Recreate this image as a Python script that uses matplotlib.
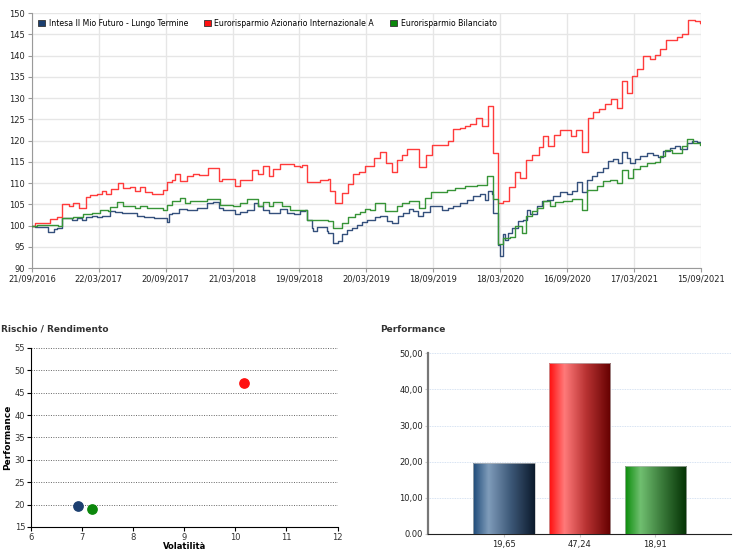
import numpy as np
import pandas as pd
import matplotlib
matplotlib.use("Agg")
import matplotlib.pyplot as plt
from matplotlib.patches import Patch


OUTPUT_FIG = "out.png"

START_DATE = "2016-09-21"
END_DATE = "2021-09-15"

FUND_NAMES = [
    "Intesa Il Mio Futuro - Lungo Termine",
    "Eurorisparmio Azionario Internazionale A",
    "Eurorisparmio Bilanciato",
]

INTESA_DATES = [
    "2016-09-21", "2016-09-30", "2016-11-05", "2016-11-19", "2016-11-28", "2016-12-12",
    "2017-01-08", "2017-01-21", "2017-02-04", "2017-02-16", "2017-03-03", "2017-03-17",
    "2017-03-30", "2017-04-22", "2017-05-06", "2017-05-24", "2017-07-04", "2017-07-22",
    "2017-08-18", "2017-09-23", "2017-09-28", "2017-10-07", "2017-10-25", "2017-11-17",
    "2017-12-14", "2018-01-10", "2018-01-28", "2018-02-11", "2018-02-24", "2018-03-28",
    "2018-04-11", "2018-04-29", "2018-05-17", "2018-05-30", "2018-06-13", "2018-06-27",
    "2018-07-28", "2018-08-16", "2018-09-03", "2018-09-21", "2018-10-05", "2018-10-09",
    "2018-10-23", "2018-10-27", "2018-11-05", "2018-12-03", "2018-12-07", "2018-12-20",
    "2019-01-03", "2019-01-12", "2019-01-26", "2019-02-09", "2019-02-22", "2019-03-08",
    "2019-03-21", "2019-04-13", "2019-04-27", "2019-05-15", "2019-05-28", "2019-06-15",
    "2019-06-29", "2019-07-13", "2019-07-26", "2019-08-09", "2019-08-22", "2019-09-10",
    "2019-09-23", "2019-10-11", "2019-10-29", "2019-11-12", "2019-11-30", "2019-12-18",
    "2020-01-05", "2020-01-24", "2020-02-06", "2020-02-15", "2020-02-24", "2020-02-27",
    "2020-03-12", "2020-03-18", "2020-03-25", "2020-04-01", "2020-04-10", "2020-04-19",
    "2020-05-07", "2020-05-20", "2020-05-30", "2020-06-08", "2020-06-26", "2020-07-09",
    "2020-07-23", "2020-08-10", "2020-08-28", "2020-09-15", "2020-09-29", "2020-10-13",
    "2020-10-26", "2020-11-09", "2020-11-22", "2020-12-06", "2020-12-24", "2021-01-07",
    "2021-01-20", "2021-02-03", "2021-02-12", "2021-02-26", "2021-03-07", "2021-03-20",
    "2021-04-03", "2021-04-21", "2021-05-09", "2021-05-23", "2021-06-05", "2021-06-23",
    "2021-07-07", "2021-07-21", "2021-08-08", "2021-08-22", "2021-09-04", "2021-09-15",
]
INTESA_VALUES = [
    100.0, 99.6, 98.4, 99.2, 99.4, 101.8,
    101.4, 101.8, 101.2, 102.0, 102.3, 102.0,
    102.3, 103.3, 103.2, 103.0, 102.3, 102.0,
    101.7, 100.8, 102.6, 103.0, 104.0, 103.7,
    104.1, 105.2, 105.5, 104.1, 103.7, 102.6,
    103.1, 103.7, 105.2, 104.5, 103.7, 103.0,
    104.0, 103.0, 102.6, 103.3, 103.6, 101.4,
    99.4, 98.6, 99.7, 98.8, 98.2, 96.0,
    96.3, 97.9, 99.0, 99.4, 100.2, 100.8,
    101.4, 102.0, 102.3, 101.0, 100.6, 102.2,
    103.0, 103.9, 103.3, 102.2, 103.1, 104.5,
    104.7, 103.7, 104.1, 104.7, 105.3, 105.9,
    106.9, 107.5, 106.1, 108.1, 107.5, 103.0,
    95.5, 92.9, 97.9, 96.7, 98.2, 99.4,
    101.0, 101.4, 103.7, 102.6, 104.7, 105.7,
    106.1, 106.9, 107.8, 107.3, 108.1, 110.2,
    107.8, 110.8, 111.7, 112.5, 113.6, 115.1,
    115.7, 114.7, 117.2, 115.9, 114.6, 115.7,
    116.3, 117.1, 116.5, 116.2, 117.5, 118.3,
    118.8, 118.0, 119.3, 119.8, 119.6, 119.6,
]

AZIONARIO_DATES = [
    "2016-09-21", "2016-09-30", "2016-11-10", "2016-11-28", "2016-12-12", "2016-12-30",
    "2017-01-12", "2017-01-26", "2017-02-16", "2017-02-27", "2017-03-17", "2017-03-30",
    "2017-04-11", "2017-04-25", "2017-05-12", "2017-05-28", "2017-06-14", "2017-06-29",
    "2017-07-13", "2017-07-26", "2017-08-13", "2017-09-12", "2017-09-23", "2017-10-07",
    "2017-10-16", "2017-10-29", "2017-11-17", "2017-12-03", "2017-12-20", "2018-01-12",
    "2018-02-13", "2018-02-20", "2018-03-28", "2018-04-11", "2018-05-13", "2018-05-30",
    "2018-06-13", "2018-06-27", "2018-07-10", "2018-07-28", "2018-09-03", "2018-09-21",
    "2018-09-26", "2018-10-09", "2018-11-14", "2018-12-07", "2018-12-12", "2018-12-25",
    "2019-01-12", "2019-01-30", "2019-02-13", "2019-02-27", "2019-03-17", "2019-04-11",
    "2019-04-27", "2019-05-12", "2019-05-28", "2019-06-11", "2019-06-25", "2019-07-08",
    "2019-08-11", "2019-08-29", "2019-09-14", "2019-10-28", "2019-11-12", "2019-11-30",
    "2019-12-14", "2019-12-27", "2020-01-13", "2020-01-28", "2020-02-14", "2020-02-27",
    "2020-03-12", "2020-03-27", "2020-04-12", "2020-04-28", "2020-05-11", "2020-05-27",
    "2020-06-12", "2020-07-01", "2020-07-14", "2020-07-27", "2020-08-13", "2020-08-28",
    "2020-09-27", "2020-10-10", "2020-10-26", "2020-11-12", "2020-11-27", "2020-12-12",
    "2020-12-29", "2021-01-14", "2021-01-30", "2021-02-12", "2021-02-26", "2021-03-11",
    "2021-03-25", "2021-04-12", "2021-04-30", "2021-05-14", "2021-05-27", "2021-06-12",
    "2021-07-12", "2021-07-27", "2021-08-12", "2021-08-30", "2021-09-13", "2021-09-15",
]
AZIONARIO_VALUES = [
    100.0, 100.6, 101.5, 102.0, 105.0, 104.6,
    105.4, 104.2, 106.8, 107.1, 107.5, 108.1,
    107.3, 108.7, 109.9, 108.9, 109.1, 108.1,
    109.1, 107.8, 107.4, 108.4, 110.2, 110.8,
    112.2, 110.4, 111.6, 112.2, 111.8, 113.6,
    110.4, 111.0, 109.4, 110.6, 113.0, 112.2,
    114.1, 111.6, 113.4, 114.4, 114.1, 113.8,
    114.3, 110.2, 110.8, 111.0, 108.1, 105.3,
    107.7, 109.7, 112.1, 112.6, 114.1, 115.9,
    117.3, 114.7, 112.7, 115.5, 116.7, 118.1,
    113.7, 116.5, 118.9, 119.8, 122.6, 123.0,
    123.4, 123.9, 125.2, 123.4, 128.1, 117.1,
    105.3, 105.8, 109.0, 112.7, 111.2, 115.5,
    116.7, 118.5, 121.0, 118.7, 121.2, 122.4,
    121.0, 122.4, 117.2, 125.4, 126.7, 127.5,
    128.5, 129.8, 127.7, 134.0, 131.1, 135.2,
    136.8, 139.9, 139.1, 140.1, 141.5, 143.7,
    144.3, 145.0, 148.4, 148.2, 147.6, 147.4,
]

BILANCIATO_DATES = [
    "2016-09-21", "2016-10-05", "2016-12-02", "2016-12-12", "2017-01-12", "2017-02-08",
    "2017-03-03", "2017-03-26", "2017-04-17", "2017-04-22", "2017-05-10", "2017-05-28",
    "2017-06-29", "2017-07-13", "2017-07-31", "2017-09-14", "2017-09-23", "2017-10-07",
    "2017-10-29", "2017-11-12", "2017-11-26", "2018-01-10", "2018-02-15", "2018-03-23",
    "2018-04-11", "2018-04-29", "2018-05-30", "2018-06-13", "2018-06-27", "2018-07-10",
    "2018-08-02", "2018-08-25", "2018-09-21", "2018-10-09", "2018-12-07", "2018-12-20",
    "2019-01-12", "2019-01-30", "2019-02-18", "2019-03-03", "2019-03-17", "2019-03-30",
    "2019-04-13", "2019-05-10", "2019-06-11", "2019-06-25", "2019-07-13", "2019-08-11",
    "2019-08-27", "2019-09-12", "2019-10-25", "2019-11-17", "2019-12-14", "2020-01-15",
    "2020-02-11", "2020-02-27", "2020-03-12", "2020-03-27", "2020-04-14", "2020-04-28",
    "2020-05-16", "2020-05-28", "2020-06-12", "2020-06-26", "2020-07-14", "2020-08-01",
    "2020-08-15", "2020-09-06", "2020-09-29", "2020-10-26", "2020-11-09", "2020-12-06",
    "2020-12-24", "2021-01-11", "2021-01-30", "2021-02-12", "2021-03-02", "2021-03-16",
    "2021-04-03", "2021-04-21", "2021-05-14", "2021-05-27", "2021-06-10", "2021-06-28",
    "2021-07-25", "2021-08-08", "2021-08-26", "2021-09-13", "2021-09-15",
]
BILANCIATO_VALUES = [
    100.0, 100.2, 100.0, 101.7, 102.0, 102.6,
    103.0, 103.6, 103.3, 104.4, 105.5, 104.7,
    104.1, 104.7, 104.1, 103.7, 104.9, 105.7,
    106.5, 105.3, 105.7, 106.2, 104.9, 104.5,
    105.2, 106.2, 104.5, 105.6, 104.5, 105.5,
    104.5, 103.7, 103.6, 101.4, 101.0, 99.4,
    100.6, 102.0, 102.6, 103.1, 103.9, 103.7,
    105.2, 103.3, 104.5, 105.3, 105.7, 104.1,
    106.5, 107.8, 108.3, 108.8, 109.2, 109.6,
    111.7, 106.2, 95.7, 97.1, 97.3, 99.8,
    98.2, 102.2, 103.3, 104.1, 105.7, 104.5,
    105.5, 105.7, 106.2, 103.7, 108.4, 109.2,
    110.4, 110.8, 110.0, 113.0, 111.2, 113.2,
    114.0, 114.7, 114.9, 116.3, 117.7, 117.1,
    118.7, 120.4, 119.4, 119.0, 119.0,
]

# risk / return
VOLATILITY = [6.92, 10.17, 7.19]
PERFORMANCE = [19.65, 47.24, 18.91]
BAR_LABELS = ["19,65", "47,24", "18,91"]
BAR_YTICK_LABELS = ["0.00", "10,00", "20,00", "30,00", "40,00", "50,00"]

LINE_COLORS = ["#34507c", "#ff3b3b", "#379437"]
LEGEND_COLORS = ["#1c3f70", "#ff1010", "#0b870b"]
GRADIENTS = [
    ["#1e4a78", "#7f9cba", "#3e5a7a", "#0c1a2c"],
    ["#ff0d0d", "#ff7a7a", "#b83232", "#640000"],
    ["#0a8c0a", "#70bf70", "#3a7a3a", "#033103"],
]


def gradient_bar(ax, bar, colors):
    cmap = matplotlib.colors.LinearSegmentedColormap.from_list(
        "g", list(zip([0.0, 0.25, 0.6, 1.0], colors))
    )
    x0, y0 = bar.get_x(), bar.get_y()
    w, h = bar.get_width(), bar.get_height()
    img = ax.imshow(
        np.linspace(0, 1, 256).reshape(1, -1),
        cmap=cmap,
        extent=[x0, x0 + w, y0, y0 + h],
        aspect="auto",
        zorder=3,
    )
    img.set_clip_path(bar)


def main():
    fig = plt.figure(figsize=(7.43, 5.51), dpi=100)

    # --- top line chart ---
    ax = fig.add_axes([0.043, 0.5136, 0.9, 0.4628])

    series = [
        (INTESA_DATES, INTESA_VALUES),
        (AZIONARIO_DATES, AZIONARIO_VALUES),
        (BILANCIATO_DATES, BILANCIATO_VALUES),
    ]
    for (dates, values), color in zip(series, LINE_COLORS):
        ax.plot(pd.to_datetime(dates), values, drawstyle="steps-post",
                color=color, linewidth=1.0, zorder=3)

    ticks = pd.date_range(START_DATE, END_DATE, freq="182D")
    ax.set_xticks(ticks)
    ax.set_xticklabels([t.strftime("%d/%m/%Y") for t in ticks])
    ax.set_xlim(pd.Timestamp(START_DATE), pd.Timestamp(END_DATE))
    ax.set_ylim(90, 150)
    ax.set_yticks(np.arange(90, 151, 5))
    ax.grid(True, color="#e6e6e6", linewidth=1.0)
    ax.set_axisbelow(True)
    for side in ["top", "right"]:
        ax.spines[side].set_visible(False)
    for side in ["left", "bottom"]:
        ax.spines[side].set_color("#9a9a9a")
    ax.tick_params(labelsize=6, length=3, color="#9a9a9a", pad=2, labelcolor="#222222")

    handles = [Patch(facecolor=c, edgecolor="#333333", linewidth=0.6) for c in LEGEND_COLORS]
    ax.legend(handles, FUND_NAMES, loc="upper left", ncol=3, frameon=False,
              fontsize=5.6, handlelength=0.9, handleheight=0.9, handletextpad=0.5,
              columnspacing=2.0, bbox_to_anchor=(0.0, 1.0), borderaxespad=0.35)

    # --- risk / return scatter ---
    ax2 = fig.add_axes([0.0413, 0.0436, 0.413, 0.3249])
    for vol, perf, color in zip(VOLATILITY, PERFORMANCE, LEGEND_COLORS):
        ax2.scatter(vol, perf, s=45, color=color, zorder=3)
    ax2.set_xlim(6, 12)
    ax2.set_ylim(15, 55)
    ax2.set_yticks(np.arange(15, 56, 5))
    ax2.grid(True, axis="y", linestyle=(0, (1, 1.5)), color="#666666", linewidth=0.7)
    ax2.set_axisbelow(True)
    for side in ["top", "right"]:
        ax2.spines[side].set_visible(False)
    ax2.tick_params(labelsize=6, length=3, pad=1, labelcolor="#333333")
    ax2.set_ylabel("Performance", fontsize=6.5, fontweight="bold", labelpad=2)
    ax2.set_xlabel("Volatilità", fontsize=6, fontweight="bold", labelpad=0)
    fig.text(0.002, 0.394, "Rischio / Rendimento", fontsize=6.5,
             fontweight="bold", color="#333333", ha="left", va="bottom")

    # --- performance bars ---
    ax3 = fig.add_axes([0.5765, 0.0309, 0.4074, 0.3278])
    x = np.arange(len(PERFORMANCE))
    bars = ax3.bar(x, PERFORMANCE, width=0.81, color="none",
                   edgecolor="#bbbbbb", linewidth=0.5, zorder=4)
    for bar, colors in zip(bars, GRADIENTS):
        gradient_bar(ax3, bar, colors)
    ax3.set_xlim(-1, 3)
    ax3.set_ylim(0, 50)
    ax3.set_yticks(np.arange(0, 51, 10))
    ax3.set_yticklabels(BAR_YTICK_LABELS)
    ax3.set_xticks(x)
    ax3.set_xticklabels(BAR_LABELS)
    ax3.grid(True, axis="y", linestyle=(0, (1, 1)), color="#c9d9ee", linewidth=0.6)
    ax3.axvline(3, color="#c9d9ee", linestyle=(0, (1, 1)), linewidth=0.6)
    ax3.set_axisbelow(True)
    ax3.spines["top"].set_visible(False)
    ax3.spines["right"].set_visible(False)
    ax3.spines["left"].set_color("#777777")
    ax3.spines["left"].set_linewidth(1.6)
    ax3.spines["bottom"].set_color("#222222")
    ax3.tick_params(labelsize=6, length=2, pad=2, labelcolor="#222222", color="#cccccc")
    fig.text(0.512, 0.393, "Performance", fontsize=6.5, fontweight="bold",
             color="#333333", ha="left", va="bottom")

    fig.savefig(OUTPUT_FIG, dpi=100)


if __name__ == "__main__":
    main()
